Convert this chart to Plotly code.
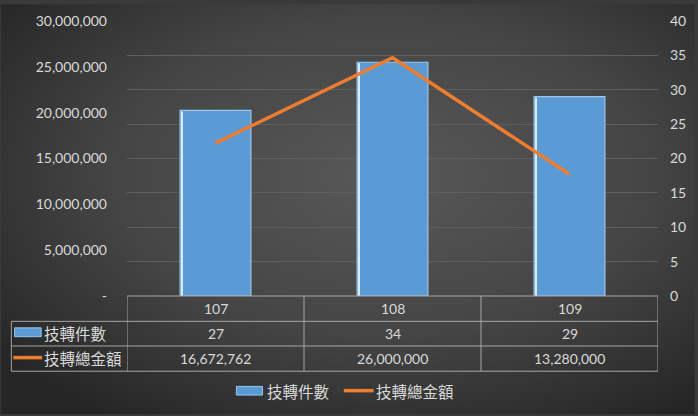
import base64
import plotly.graph_objects as go

# ---- data ----
years = ["107", "108", "109"]
cases = [27, 34, 29]                       # 技轉件數 (right axis, bars)
amounts = [16672762, 26000000, 13280000]   # 技轉總金額 (left axis, line)
series_names = ["技轉件數", "技轉總金額"]
left_ticks = [0, 5000000, 10000000, 15000000, 20000000, 25000000, 30000000]
right_ticks = [0, 5, 10, 15, 20, 25, 30, 35, 40]

W, H = 698, 416
L, R, T, B = 127, 661, 17, 296
PW, PH = R - L, B - T

def px(x):
    return (x - L) / PW

def py(y):
    return (B - y) / PH

NUM_FONT = "Lato"
CJK_FONT = "Noto Sans CJK TC"
TXT = "#d9d9d9"
GRID = "#5f5f5f"
TBL = "#a6a6a6"
BLUE = "#5b9bd5"
ORANGE = "#ed7d31"

fig = go.Figure()

idx = list(range(len(years)))
fig.add_trace(go.Bar(
    x=idx, y=cases, name=series_names[0], yaxis="y",
    width=0.4, offset=-0.2,
    marker=dict(color=BLUE, line=dict(color="#9cc6ea", width=1.2)),
    hoverinfo="skip",
))
# bevel highlight on left edge of bars
fig.add_trace(go.Bar(
    x=idx, y=[v - 0.15 for v in cases], yaxis="y", showlegend=False,
    width=0.008, offset=-0.193,
    marker=dict(color="#d6ecff", line=dict(width=0)),
    hoverinfo="skip",
))
fig.add_trace(go.Scatter(
    x=idx, y=amounts, name=series_names[1], yaxis="y2",
    mode="lines", line=dict(color=ORANGE, width=3.5),
    hoverinfo="skip",
))

def fmt(v):
    return "-" if v == 0 else f"{v:,}"

# background gradient
svg = f'''<svg xmlns="http://www.w3.org/2000/svg" width="{W}" height="{H}">
<defs><radialGradient id="g" cx="0.55" cy="0.42" r="0.7">
<stop offset="0" stop-color="#585858"/><stop offset="0.55" stop-color="#454545"/>
<stop offset="1" stop-color="#262626"/></radialGradient></defs>
<rect width="{W}" height="{H}" fill="url(#g)"/></svg>'''
src = "data:image/svg+xml;base64," + base64.b64encode(svg.encode()).decode()

shapes = []
def line(x0, y0, x1, y1, color=TBL, width=1, xref="paper"):
    shapes.append(dict(type="line", xref=xref, yref="paper", x0=x0, y0=y0, x1=x1, y1=y1,
                       line=dict(color=color, width=width)))

row_y = [296, 321.7, 346.7, 372.3]
# horizontal table lines
line(px(L), py(row_y[0]), px(R), py(row_y[0]))
for yy in row_y[1:]:
    line(px(10.7), py(yy), px(R), py(yy))
# vertical lines
line(px(10.7), py(row_y[1]), px(10.7), py(row_y[3]))
for k in range(len(years) + 1):
    shapes.append(dict(type="line", xref="x", yref="paper", x0=k - 0.5, x1=k - 0.5,
                       y0=py(row_y[0]), y1=py(row_y[3]), line=dict(color=TBL, width=1)))

# legend keys in table
shapes.append(dict(type="rect", xref="paper", yref="paper", x0=px(14), x1=px(40.7),
                   y0=py(337.3), y1=py(328.3), fillcolor=BLUE, line=dict(color="#9cc6ea", width=1)))
line(px(12.7), py(358.5), px(41.7), py(358.5), color=ORANGE, width=3.5)
# bottom legend keys
shapes.append(dict(type="rect", xref="paper", yref="paper", x0=px(237), x1=px(263.3),
                   y0=py(396.5), y1=py(387.7), fillcolor=BLUE, line=dict(color="#9cc6ea", width=1)))
line(px(345), py(392), px(375), py(392), color=ORANGE, width=3.5)

ann = []
def text(x, y, s, font, size, xanchor="center", xref="paper"):
    ann.append(dict(x=x, y=y, xref=xref, yref="paper", text=s, showarrow=False,
                    xanchor=xanchor, yanchor="middle",
                    font=dict(family=font, size=size, color=TXT)))

row_c = [309, 334, 359]
for i, yr in enumerate(years):
    text(i, py(row_c[0]), yr, NUM_FONT, 14, xref="x")
    text(i, py(row_c[1]), fmt(cases[i]), NUM_FONT, 14, xref="x")
    text(i, py(row_c[2]), fmt(amounts[i]), NUM_FONT, 14, xref="x")
text(px(42), py(row_c[1]), series_names[0], CJK_FONT, 15.5, xanchor="left")
text(px(42), py(row_c[2]), series_names[1], CJK_FONT, 15.5, xanchor="left")
text(px(266), py(392), series_names[0], CJK_FONT, 15.5, xanchor="left")
text(px(375), py(392), series_names[1], CJK_FONT, 15.5, xanchor="left")

fig.update_layout(
    width=W, height=H,
    margin=dict(l=L, r=W - R, t=T, b=H - B),
    paper_bgcolor="#3a3a3a", plot_bgcolor="rgba(0,0,0,0)",
    showlegend=False, barmode="overlay",
    images=[dict(source=src, xref="paper", yref="paper", x=px(0), y=py(0),
                 sizex=W / PW, sizey=H / PH, sizing="stretch", layer="below",
                 xanchor="left", yanchor="top")],
    xaxis=dict(range=[-0.5, len(years) - 0.5], showticklabels=False, showgrid=False,
               zeroline=False, showline=False, fixedrange=True),
    yaxis=dict(side="right", range=[0, 40], tickvals=right_ticks,
               ticktext=[str(v) for v in right_ticks], showgrid=True, gridcolor=GRID,
               gridwidth=1, zeroline=False, showline=False, ticklabelstandoff=11,
               tickfont=dict(family=NUM_FONT, size=14, color=TXT)),
    yaxis2=dict(side="left", overlaying="y", range=[0, 30000000], tickvals=left_ticks,
                ticktext=[fmt(v) for v in left_ticks], showgrid=False, zeroline=False,
                showline=False, ticklabelstandoff=19,
                tickfont=dict(family=NUM_FONT, size=14, color=TXT)),
    shapes=shapes, annotations=ann,
)

fig.write_html("out.html", config={"displayModeBar": False},
               post_script="document.body.style.margin='0';document.body.style.overflow='hidden';")
